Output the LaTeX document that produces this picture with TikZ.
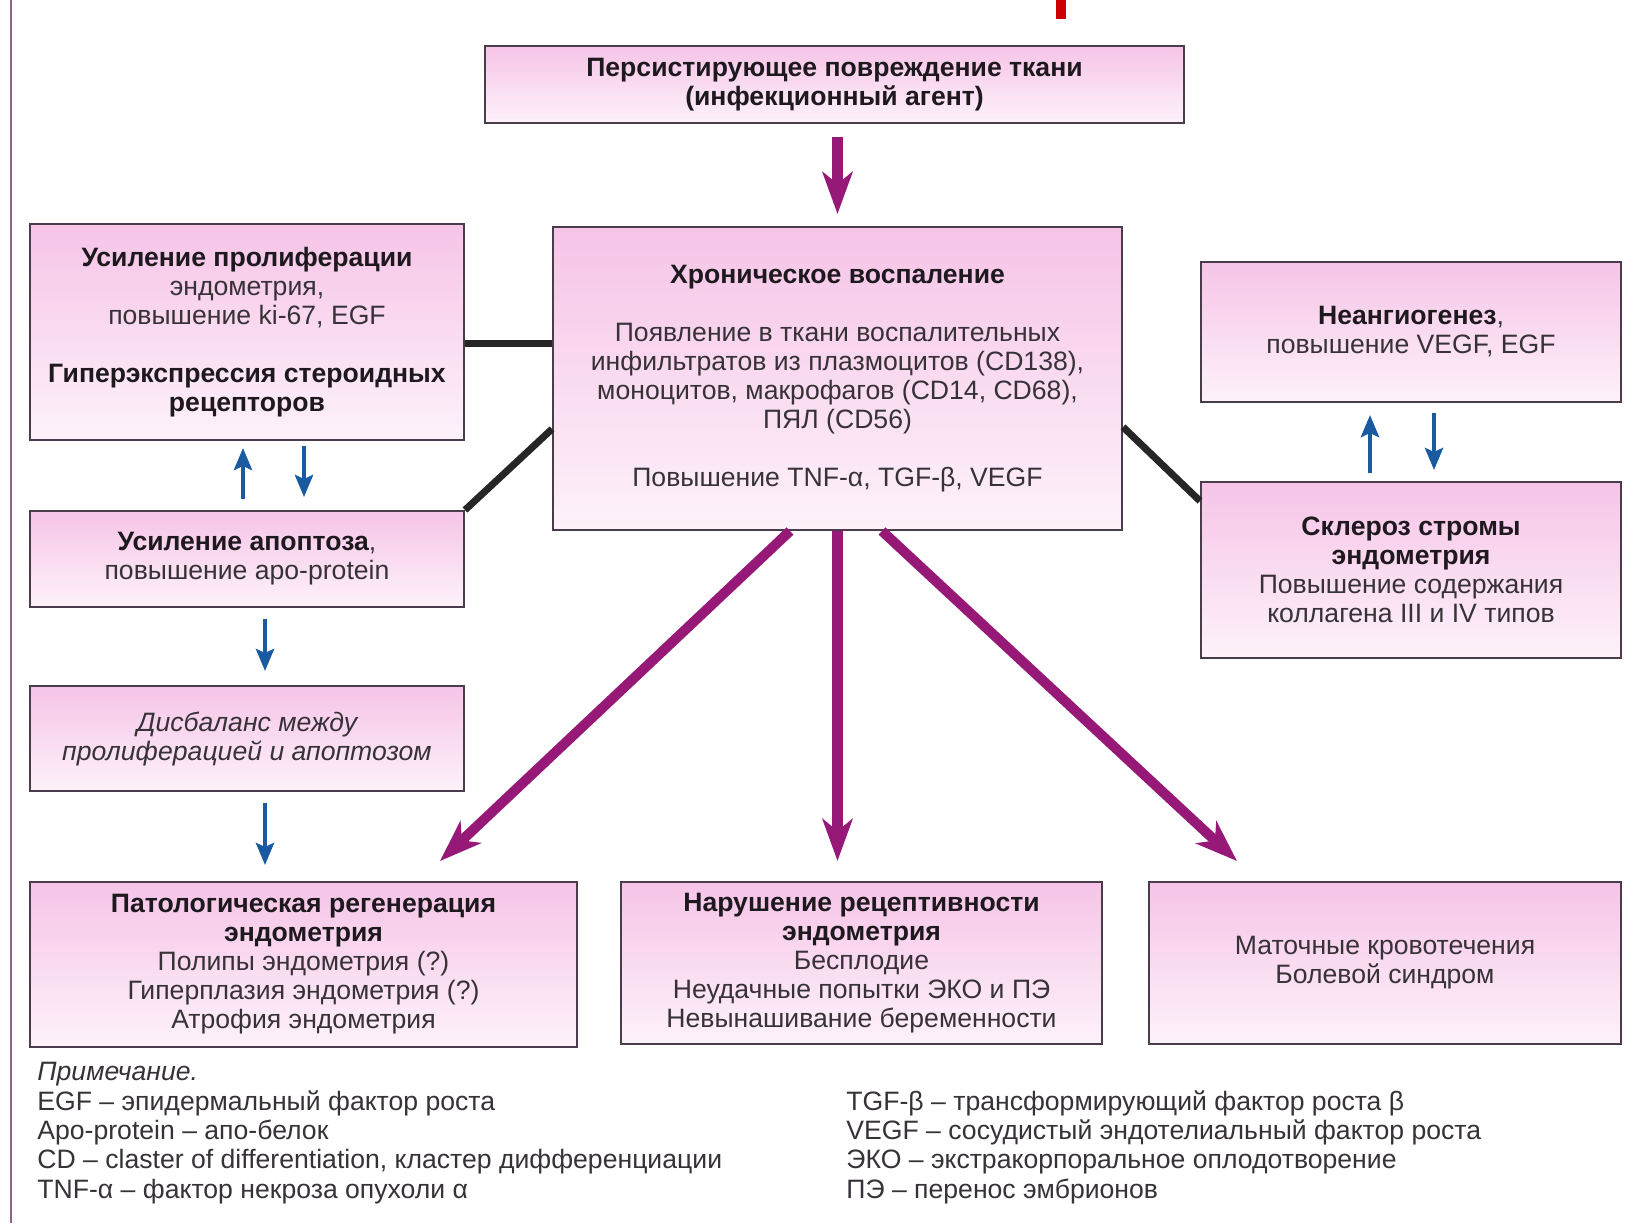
\documentclass[tikz,border=0pt]{standalone}
\usepackage{fontspec}
\setmainfont{Liberation Sans}
\usetikzlibrary{arrows.meta,shadings}
\definecolor{boxtop}{RGB}{246,196,231}
\definecolor{boxbot}{RGB}{253,242,250}
\definecolor{boxline}{RGB}{75,60,75}
\definecolor{mag}{RGB}{150,25,120}
\definecolor{bluearr}{RGB}{25,90,160}
\definecolor{txt}{RGB}{55,50,55}
\definecolor{hdrc}{RGB}{30,25,30}
\definecolor{bordc}{RGB}{140,100,140}
\newcommand{\hdr}[1]{\textbf{\color{hdrc}#1}}
\begin{document}
\begin{tikzpicture}[x=0.5pt,y=-0.5pt,
 box/.style={draw=boxline, line width=1pt, top color=boxtop, bottom color=boxbot, align=center, inner sep=0pt, text=txt, font=\fontsize{13.3}{14.5}\selectfont},
 magarrow/.style={draw=mag, line width=5pt, -{Stealth[length=21pt,width=15pt,inset=6pt]}},
 blkline/.style={draw=black!85, line width=3.5pt},
 bluearrow/.style={draw=bluearr, line width=2.2pt, -{Stealth[length=11pt,width=9pt,inset=2pt]}},
 note/.style={anchor=base west, inner sep=0pt, text=txt, font=\fontsize{13.3}{14.5}\selectfont}]
\useasboundingbox (0,0) rectangle (1642,1223);
\fill[white] (0,0) rectangle (1642,1223);
\draw[bordc, line width=1pt] (10.5,0) -- (10.5,1223);
\fill[red!80!black] (1056,0) rectangle (1066,19);

\node[box, minimum width=349.5pt, minimum height=38.5pt] (top) at (834.5,84.5)
 {\hdr{Персистирующее повреждение ткани}\\\hdr{(инфекционный агент)}};
\node[box, minimum width=284.5pt, minimum height=151.5pt] (chr) at (837.5,378.5)
 {\hdr{Хроническое воспаление}\\[14.5pt]
  Появление в ткани воспалительных\\
  инфильтратов из плазмоцитов (CD138),\\
  моноцитов, макрофагов (CD14, CD68),\\
  ПЯЛ (CD56)\\[14.5pt]
  Повышение TNF-α, TGF-β, VEGF};
\node[box, minimum width=217pt, minimum height=108pt] (prolif) at (247,332)
 {\hdr{Усиление пролиферации}\\
  эндометрия,\\
  повышение ki-67, EGF\\[14.5pt]
  \hdr{Гиперэкспрессия стероидных}\\
  \hdr{рецепторов}};
\node[box, minimum width=217pt, minimum height=48pt] (apopt) at (247,559)
 {\hdr{Усиление апоптоза},\\повышение apo-protein};
\node[box, minimum width=217pt, minimum height=52.5pt] (imbal) at (247,738.5)
 {\itshape Дисбаланс между\\\itshape пролиферацией и апоптозом};
\node[box, minimum width=273.5pt, minimum height=82.5pt] (patreg) at (303.5,964.5)
 {\hdr{Патологическая регенерация}\\
  \hdr{эндометрия}\\
  Полипы эндометрия (?)\\
  Гиперплазия эндометрия (?)\\
  Атрофия эндометрия};
\node[box, minimum width=240.5pt, minimum height=81pt] (recept) at (861.5,963)
 {\hdr{Нарушение рецептивности}\\
  \hdr{эндометрия}\\
  Бесплодие\\
  Неудачные попытки ЭКО и ПЭ\\
  Невынашивание беременности};
\node[box, minimum width=236pt, minimum height=81pt] (bleed) at (1385,963)
 {Маточные кровотечения\\Болевой синдром};
\node[box, minimum width=210pt, minimum height=70pt] (neo) at (1411,332)
 {\hdr{Неангиогенез},\\повышение VEGF, EGF};
\node[box, minimum width=210pt, minimum height=88pt] (scler) at (1411,570)
 {\hdr{Склероз стромы}\\
  \hdr{эндометрия}\\
  Повышение содержания\\
  коллагена III и IV типов};

% magenta arrows
\draw[magarrow, line width=5.5pt, shorten <=6.5pt, shorten >=6pt] (top.south -| chr.north) -- (chr.north);
\draw[magarrow] ([xshift=-23.75pt]chr.south) -- ([xshift=68.25pt,yshift=10pt]patreg.north);
\draw[magarrow, line width=5.5pt, shorten >=10pt] (chr.south) -- (chr.south |- recept.north);
\draw[magarrow] ([xshift=22.25pt]chr.south) -- ([xshift=-74pt,yshift=10pt]bleed.north);

% black connectors
\draw[blkline] ([yshift=-5.5pt]prolif.east) -- ([yshift=-5.5pt]prolif.east -| chr.west);
\draw[blkline] (apopt.north east) -- ([yshift=-25.25pt]chr.west);
\draw[blkline] ([yshift=-24.25pt]chr.east) -- ([yshift=-10pt]scler.north west);

% blue arrows
\draw[bluearrow, shorten <=5.5pt, shorten >=3.5pt] ([xshift=-2pt]apopt.north) -- ([xshift=-2pt]prolif.south);
\draw[bluearrow, shorten <=2.5pt, shorten >=6.5pt] ([xshift=28.5pt]prolif.south) -- ([xshift=28.5pt]apopt.north);
\draw[bluearrow, shorten <=5.5pt, shorten >=7pt] ([xshift=9pt]apopt.south) -- ([xshift=9pt]imbal.north);
\draw[bluearrow, shorten <=5.5pt, shorten >=8pt] ([xshift=9pt]imbal.south) -- ([xshift=9pt]imbal.south |- patreg.north);
\draw[bluearrow, shorten <=4pt, shorten >=6pt] ([xshift=-20.5pt]scler.north) -- ([xshift=-20.5pt]neo.south);
\draw[bluearrow, shorten <=5pt, shorten >=5.5pt] ([xshift=11.5pt]neo.south) -- ([xshift=11.5pt]scler.north);

% notes
\node[note, font=\fontsize{13.3}{14.5}\selectfont\itshape] (prim) at (37,1080) {Примечание.};
\node[note] (nl1) at (37,1110) {EGF – эпидермальный фактор роста};
\node[note] (nl2) at (37,1139) {Apo-protein – апо-белок};
\node[note] (nl3) at (37,1168) {CD – claster of differentiation, кластер дифференциации};
\node[note] (nl4) at (37,1198) {TNF-α – фактор некроза опухоли α};
\node[note] (nr1) at (846,1110) {TGF-β – трансформирующий фактор роста β};
\node[note] (nr2) at (846,1139) {VEGF – сосудистый эндотелиальный фактор роста};
\node[note] (nr3) at (846,1168) {ЭКО – экстракорпоральное оплодотворение};
\node[note] (nr4) at (846,1198) {ПЭ – перенос эмбрионов};
\end{tikzpicture}
\end{document}
